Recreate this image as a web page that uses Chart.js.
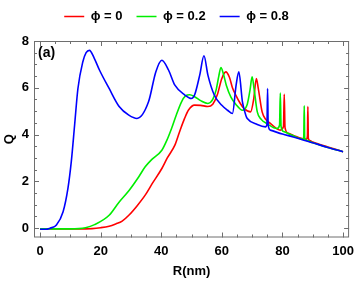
<!DOCTYPE html>
<html>
<head>
<meta charset="utf-8">
<script src="https://cdn.jsdelivr.net/npm/chart.js@4.4.1/dist/chart.umd.min.js"></script>
<style>
  body { margin: 0; background: #fff; }
  #wrap { width: 360px; height: 283px; }
</style>
</head>
<body>
<div id="wrap"><canvas id="qChart" width="360" height="283"></canvas></div>
<script>
// tick labels
var xTicks = [0, 20, 40, 60, 80, 100];
var yTicks = [0, 2, 4, 6, 8];
var seriesNames = ["ϕ = 0", "ϕ = 0.2", "ϕ = 0.8"];
var lineColors = ["#ff0000", "#00ee00", "#0000ff"];

// phi = 0
var r0 = [0, 15, 20, 22.8, 25, 27.1, 29.3, 32, 34.7, 37, 40.2, 42, 44.5, 46, 47.7, 49, 51, 53, 55.4, 57, 58.5, 60, 61.3, 62.5, 63.5, 64.6, 66, 67.3, 69.5, 70.5, 71.4, 72, 73.3, 74.5, 76, 79.3, 80.35, 80.6, 80.85, 82, 83.6, 87.9, 88.25, 88.4, 88.55, 89, 90, 95, 100];
var q0 = [-0.03, -0.03, 0.02, 0.08, 0.18, 0.3, 0.55, 0.95, 1.41, 1.9, 2.55, 3.0, 3.55, 4.1, 4.69, 5.05, 5.26, 5.25, 5.2, 5.3, 5.7, 6.4, 6.68, 6.45, 6.0, 5.69, 5.35, 5.12, 4.97, 5.5, 6.4, 6.0, 4.97, 4.65, 4.48, 4.19, 4.35, 5.72, 4.3, 4.05, 3.96, 3.8, 3.95, 5.2, 3.85, 3.75, 3.68, 3.47, 3.27];

// phi = 0.2
var r1 = [0, 10, 15, 18, 22.8, 26, 29.3, 32.6, 34.7, 37, 40.2, 42, 43.4, 45, 46.7, 48, 49.4, 51, 53, 55.4, 57, 58.1, 59, 59.7, 60.5, 61.5, 63, 64.6, 66.8, 68.4, 69.3, 70, 70.6, 71.7, 73, 74.9, 78.2, 79.05, 79.3, 79.55, 80.4, 83, 86.9, 87.05, 87.2, 87.35, 88, 90, 95, 100];
var q1 = [-0.03, -0.03, 0.02, 0.15, 0.55, 1.1, 1.6, 2.2, 2.62, 2.95, 3.33, 3.8, 4.26, 4.85, 5.4, 5.65, 5.7, 5.62, 5.45, 5.33, 5.5, 5.9, 6.5, 6.87, 6.6, 6.1, 5.6, 5.3, 5.04, 5.3, 5.9, 6.47, 6.0, 4.97, 4.65, 4.47, 4.26, 4.4, 5.78, 4.35, 4.13, 3.98, 3.8, 3.95, 5.23, 3.85, 3.75, 3.65, 3.45, 3.27];

// phi = 0.8
var r2 = [0, 2, 3.3, 5.4, 7.6, 9.2, 10.3, 11.4, 12.5, 14.1, 15.2, 16.3, 17.9, 19.6, 22.8, 26.1, 29.3, 32, 35.8, 38.2, 40.2, 42.4, 44.5, 47.8, 49.9, 51, 52.7, 54.1, 55.4, 57.5, 60, 61.9, 63.5, 64.7, 65.6, 66.8, 67.9, 68.4, 71.7, 74.4, 74.9, 75.1, 75.3, 76, 80, 83.6, 90, 95, 100];
var q2 = [-0.05, -0.05, 0.0, 0.13, 0.7, 1.7, 2.83, 4.4, 5.97, 7.1, 7.5, 7.6, 7.26, 6.76, 5.97, 5.2, 4.83, 4.69, 5.4, 6.68, 7.18, 6.76, 6.11, 5.69, 5.54, 5.69, 6.54, 7.37, 6.54, 5.69, 5.25, 5.04, 4.9, 6.1, 6.68, 5.4, 4.83, 4.69, 4.43, 4.33, 4.45, 5.97, 4.4, 4.19, 4.02, 3.9, 3.65, 3.45, 3.27];

function pts(xs, ys) {
  return xs.map(function (v, i) { return { x: v, y: ys[i] }; });
}

// legend gets a fixed block height so the plot frame starts lower
var legendHeight = {
  id: "legendHeight",
  afterInit: function (chart) {
    var lg = chart.legend;
    var fit = lg.fit;
    lg.fit = function () { fit.call(this); this.height += 8; };
  }
};

// inward frame ticks and the full box, like the original plot frame
var framePlugin = {
  id: "frame",
  afterDraw: function (chart) {
    var ctx = chart.ctx;
    var a = chart.chartArea;
    var xs = chart.scales.x, ys = chart.scales.y;
    ctx.save();
    ctx.strokeStyle = "#6e6e6e";
    ctx.lineWidth = 1;
    ctx.strokeRect(a.left + 0.5, a.top + 0.5, a.right - a.left - 1, a.bottom - a.top - 1);
    ctx.beginPath();
    for (var v = 0; v <= 100; v += 5) {
      var px = Math.round(xs.getPixelForValue(v)) + 0.5;
      var len = v % 20 === 0 ? 5 : 3;
      ctx.moveTo(px, a.bottom); ctx.lineTo(px, a.bottom - len);
      ctx.moveTo(px, a.top); ctx.lineTo(px, a.top + len);
    }
    for (var w = 0; w <= 8; w += 0.5) {
      var py = Math.round(ys.getPixelForValue(w)) + 0.5;
      var l2 = w % 2 === 0 ? 5 : 3;
      ctx.moveTo(a.left, py); ctx.lineTo(a.left + l2, py);
      ctx.moveTo(a.right, py); ctx.lineTo(a.right - l2, py);
    }
    ctx.stroke();
    ctx.fillStyle = "#000";
    ctx.font = "bold 14px 'Liberation Sans', Arial, sans-serif";
    ctx.textBaseline = "top";
    ctx.fillText("(a)", a.left + 4, a.top + 5);
    ctx.restore();
  }
};

var tickFont = { family: "'Liberation Sans', Arial, sans-serif", size: 13, weight: "bold" };

new Chart("qChart", {
  type: "line",
  data: {
    datasets: [
      { label: seriesNames[0], data: pts(r0, q0), borderColor: lineColors[0], backgroundColor: lineColors[0], order: 2 },
      { label: seriesNames[1], data: pts(r1, q1), borderColor: lineColors[1], backgroundColor: lineColors[1], order: 1 },
      { label: seriesNames[2], data: pts(r2, q2), borderColor: lineColors[2], backgroundColor: lineColors[2], order: 0 },
    ],
  },
  options: {
    responsive: false,
    animation: false,
    layout: { padding: { top: -4, right: 7, left: 0, bottom: 0 } },
    elements: {
      point: { radius: 0 },
      line: { borderWidth: 1.6, cubicInterpolationMode: "monotone" },
    },
    plugins: {
      tooltip: { enabled: false },
      legend: {
        display: true,
        position: "top",
        labels: {
          boxWidth: 20,
          boxHeight: 0,
          padding: 14,
          color: "#000",
          font: { family: "'Liberation Sans', Arial, sans-serif", size: 13, weight: "bold" },
          sort: function (a, b) { return a.datasetIndex - b.datasetIndex; },
        },
      },
    },
    scales: {
      x: {
        type: "linear",
        min: -2,
        max: 102,
        afterBuildTicks: function (s) { s.ticks = xTicks.map(function (v) { return { value: v }; }); },
        afterFit: function (s) { s.height = 45.5; },
        grid: { display: false, drawTicks: false },
        border: { display: false },
        ticks: { color: "#000", font: tickFont, padding: 6, maxRotation: 0 },
        title: { display: true, text: "R(nm)", color: "#000", font: tickFont, padding: 4 },
      },
      y: {
        min: -0.4,
        max: 8,
        afterBuildTicks: function (s) { s.ticks = yTicks.map(function (v) { return { value: v }; }); },
        afterFit: function (s) { s.width = 34; },
        grid: { display: false, drawTicks: false },
        border: { display: false },
        ticks: { color: "#000", font: tickFont, padding: 5 },
        title: { display: true, text: "Q", color: "#000", font: tickFont, padding: 2 },
      },
    },
  },
  plugins: [framePlugin, legendHeight],
});
</script>
</body>
</html>
